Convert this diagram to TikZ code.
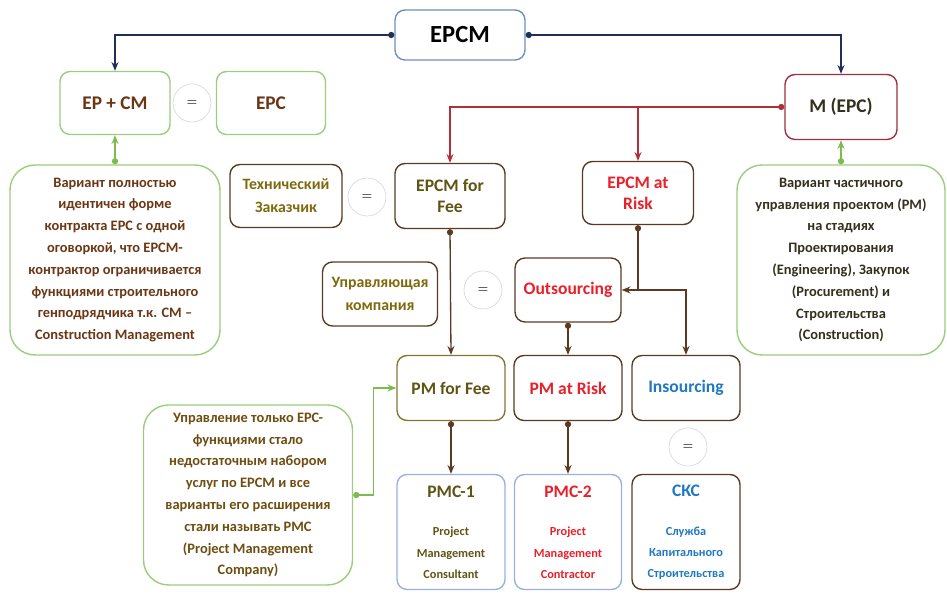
\documentclass[tikz,border=0pt]{standalone}
\usepackage{fontspec}
\setmainfont{Carlito}
\usepackage{tikz}
\usetikzlibrary{shapes,arrows.meta}
\definecolor{navyline}{HTML}{1F2F55}
\definecolor{redline}{HTML}{B0303A}
\definecolor{brownline}{HTML}{5C3A22}
\definecolor{greenline}{HTML}{7DBB4F}
\definecolor{greenframe}{HTML}{9ACD7E}
\definecolor{blueframe}{HTML}{6F8FBF}
\definecolor{paleblue}{HTML}{9AB0DD}
\definecolor{oliveframe}{HTML}{8A7530}
\definecolor{darkred}{HTML}{A0303E}
\definecolor{olivetext}{HTML}{5F5414}
\definecolor{ochretext}{HTML}{7E6A0C}
\definecolor{notetext}{HTML}{6E4D10}
\definecolor{browntext}{HTML}{6A3614}
\definecolor{darktext}{HTML}{33301C}
\definecolor{redtext}{HTML}{E8202A}
\definecolor{bluetext}{HTML}{1F78C0}
\tikzset{
	block/.style    = {draw, thick, rectangle, rounded corners=0.2cm,
		align=center, font=\bfseries\fontsize{10}{12}\selectfont},
	note/.style     = {draw=greenframe, thick, rectangle, rounded corners=0.5cm,
		align=center, font=\bfseries\fontsize{8.2}{12.4}\selectfont},
	equal/.style    = {draw=gray!30, circle, minimum size=0.76cm, inner sep=0pt,
		font=\fontsize{7}{8}\selectfont},
	link/.style     = {line width=0.75pt, {Circle[length=3.5pt]}-{Stealth[length=5pt,width=4pt]}},
	plain/.style    = {line width=0.75pt, -{Stealth[length=5pt,width=4pt]}}
}
\newcommand{\eqsign}{$=$}
\newcommand{\subtext}{\fontsize{7}{9.6}\selectfont}

\begin{document}
\begin{tikzpicture}[x=0.02cm, y=-0.02cm]
\useasboundingbox (0,0) rectangle (947,597);
% top level
\node at (460,35)[block, draw=blueframe, minimum width=2.6cm, minimum height=1cm,
	font=\bfseries\fontsize{14}{16}\selectfont] (epcm) {EPCM};
\node at (115,103)[block, draw=greenframe, text=browntext, minimum width=2.2cm,
	minimum height=1.26cm, font=\bfseries\fontsize{11}{13}\selectfont] (epcmplus) {EP + CM};
\node at (192,103)[equal] (eq1) {\eqsign};
\node at (271,103)[block, draw=greenframe, text=browntext, minimum width=2.18cm,
	minimum height=1.26cm, font=\bfseries\fontsize{11}{13}\selectfont] (epc) {EPC};
\node at (841,107)[block, draw=darkred, text=darktext, minimum width=2.24cm,
	minimum height=1.3cm, font=\bfseries\fontsize{11}{13}\selectfont] (mepc) {M (EPC)};
% notes
\node at (115,260)[note, text=browntext, minimum width=4.2cm, minimum height=3.8cm] (noteleft)
	{Вариант полностью\\идентичен форме\\контракта EPC с одной\\оговоркой, что EPCM-\\
	контрактор ограничивается\\функциями строительного\\генподрядчика т.к. CM –\\Construction Management};
\node at (841,260)[note, text=darktext, minimum width=4.16cm, minimum height=3.8cm] (noteright)
	{Вариант частичного\\управления проектом (PM)\\на стадиях\\Проектирования\\
	(Engineering), Закупок\\(Procurement) и\\Строительства\\(Construction)};
\node at (248,495)[note, text=notetext, minimum width=4.18cm, minimum height=3.6cm] (notepmc)
	{Управление только EPC-\\функциями стало\\недостаточным набором\\услуг по EPCM и все\\
	варианты его расширения\\стали называть PMC\\(Project Management\\Company)};
% second level
\node at (286,196)[block, draw=brownline, text=ochretext, minimum width=2.24cm,
	minimum height=1.26cm, font=\bfseries\fontsize{9}{13}\selectfont] (tech) {Технический\\Заказчик};
\node at (367,197)[equal] (eq2) {\eqsign};
\node at (450,196)[block, draw=brownline, text=olivetext, minimum width=2.2cm,
	minimum height=1.3cm] (fee) {EPCM for\\Fee};
\node at (638,193)[block, draw=brownline, text=redtext, minimum width=2.22cm,
	minimum height=1.26cm] (risk) {EPCM at\\Risk};
\node at (380,294)[block, draw=brownline, text=ochretext, minimum width=2.3cm,
	minimum height=1.28cm, font=\bfseries\fontsize{9}{13}\selectfont] (mgmt) {Управляющая\\компания};
\node at (483,290)[equal] (eq3) {\eqsign};
\node at (568,290)[block, draw=brownline, text=redtext, minimum width=2.12cm,
	minimum height=1.28cm] (outs) {Outsourcing};
% third level
\node at (451,388)[block, draw=oliveframe, text=olivetext, minimum width=2.16cm,
	minimum height=1.3cm] (pmfee) {PM for Fee};
\node at (568,388)[block, draw=brownline, text=redtext, minimum width=2.16cm,
	minimum height=1.3cm] (pmrisk) {PM at Risk};
\node at (686,388)[block, draw=brownline, text=bluetext, minimum width=2.16cm,
	minimum height=1.3cm] (insrc) {Insourcing};
\node at (688,447)[equal] (eq4) {\eqsign};
% bottom level
\node at (451,532)[block, draw=paleblue, text=olivetext, minimum width=2.16cm,
	minimum height=2.3cm] (pmc1) {PMC-1\\[10pt]\subtext Project\\\subtext Management\\\subtext Consultant};
\node at (568,532)[block, draw=paleblue, text=redtext, minimum width=2.14cm,
	minimum height=2.3cm] (pmc2) {PMC-2\\[10pt]\subtext Project\\\subtext Management\\\subtext Contractor};
\node at (686,532)[block, draw=brownline, text=bluetext, minimum width=2.16cm,
	minimum height=2.3cm] (cks) {СКС\\[10pt]\subtext Служба\\\subtext Капитального\\\subtext Строительства};

\draw[link, navyline](epcm.west) -| (epcmplus.north);
\draw[link, navyline](epcm.east) -| (mepc.north);
\draw[link, redline](mepc.west) -| (fee.north);
\draw[plain, redline](risk.north |- mepc.west) -- (risk.north);
\draw[link, greenline](noteleft.north) -- (epcmplus.south);
\draw[link, greenline](noteright.north) -- (mepc.south);
\draw[link, brownline](fee.south) -- (pmfee.north);
\draw[link, brownline](risk.south) |- (outs.east);
\draw[plain, brownline](risk.south |- outs.east) -| (insrc.north);
\draw[link, brownline](outs.south) -- (pmrisk.north);
\draw[link, brownline](pmfee.south) -- (pmc1.north);
\draw[link, brownline](pmrisk.south) -- (pmc2.north);
\draw[link, greenline](notepmc.east) -- ++(20,0) |- (pmfee.west);
\end{tikzpicture}
\end{document}
